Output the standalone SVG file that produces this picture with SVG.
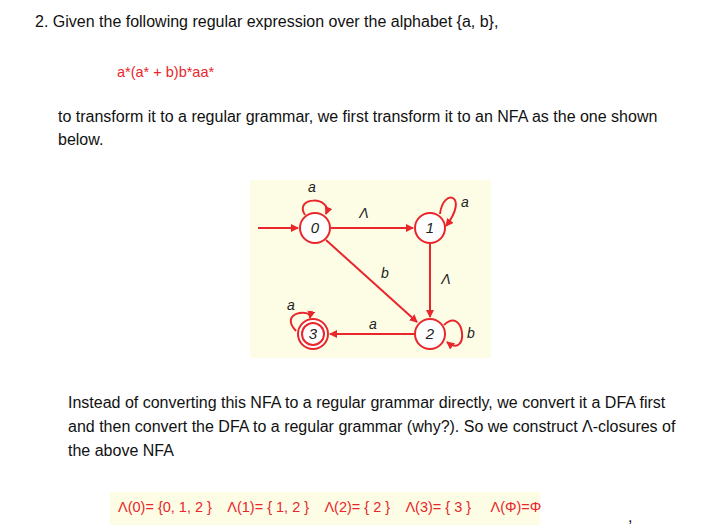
<svg xmlns="http://www.w3.org/2000/svg" width="713" height="529" viewBox="0 0 713 529">
<defs>
<marker id="ar" markerWidth="8" markerHeight="8" refX="7" refY="4" orient="auto" markerUnits="userSpaceOnUse"><path d="M0,0 L8,4 L0,8 Z" fill="#e8262b"/></marker>
<style>
.t{font-family:"Liberation Sans",Arial,sans-serif;font-size:16px;fill:#111}
.r{font-family:"Liberation Sans",Arial,sans-serif;font-size:14.5px;fill:#e8262b}
.n{fill:#fff;stroke:#e8262b;stroke-width:2}
.nl{font-family:"Liberation Sans",Arial,sans-serif;font-size:15px;font-style:italic;fill:#222;text-anchor:middle}
.e{fill:none;stroke:#e8262b;stroke-width:2;marker-end:url(#ar)}
.el{font-family:"Liberation Sans",Arial,sans-serif;font-size:14px;font-style:italic;fill:#222;text-anchor:middle}
</style>
</defs>
<rect width="713" height="529" fill="#fff"/>
<text class="t" x="35" y="27" font-size="15">2.  Given the following regular expression over the alphabet {a, b},</text>
<text class="r" x="117" y="77">a*(a* + b)b*aa*</text>
<text class="t" x="58" y="122">to transform it to a regular grammar, we first transform it to an NFA as the one shown</text>
<text class="t" x="58" y="145">below.</text>
<rect x="250" y="180" width="241" height="178" fill="#fdfde6"/>
<g id="connectors">
<path class="e" d="M258,228 L298,228"/>
<path class="e" d="M331,228 L413,228"/>
<path class="e" d="M326,240 L417,322"/>
<path class="e" d="M430,244 L430,317"/>
<path class="e" d="M414,334 L330,334"/>
<path class="e" d="M305,215 C293,196 333,196 326,214"/>
<path class="e" d="M440,214 C443,187 470,195 446,226"/>
<path class="e" d="M444,325 C465,305 470,360 447,342"/>
<path class="e" d="M296,331 C278,312 312,308 310,318"/>
<text class="el" x="312" y="192">a</text>
<text class="el" x="364" y="218">Λ</text>
<text class="el" x="465" y="207">a</text>
<text class="el" x="385" y="278">b</text>
<text class="el" x="446" y="284">Λ</text>
<text class="el" x="471" y="338">b</text>
<text class="el" x="373" y="329">a</text>
<text class="el" x="291" y="310">a</text>
</g>
<g id="n0"><circle class="n" cx="315" cy="228" r="15"/><text class="nl" x="315" y="233">0</text></g>
<g id="n1"><circle class="n" cx="430" cy="228" r="15"/><text class="nl" x="430" y="233">1</text></g>
<g id="n2"><circle class="n" cx="430" cy="334" r="15"/><text class="nl" x="430" y="339">2</text></g>
<g id="n3"><circle class="n" cx="313" cy="334" r="15"/><circle class="n" cx="313" cy="334" r="11"/><text class="nl" x="313" y="339">3</text></g>
<text class="t" x="68" y="408">Instead of converting this NFA to a regular grammar directly, we convert it a DFA first</text>
<text class="t" x="68" y="432">and then convert the DFA to a regular grammar (why?). So we construct Λ-closures of</text>
<text class="t" x="68" y="456">the above NFA</text>
<rect x="110" y="492" width="430" height="33" fill="#fdfde6"/>
<text class="r" x="118" y="512" xml:space="preserve">Λ(0)= {0, 1, 2 }    Λ(1)= { 1, 2 }    Λ(2)= { 2 }    Λ(3)= { 3 }     Λ(Φ)=Φ</text>
<text class="t" x="628" y="522">,</text>
</svg>
